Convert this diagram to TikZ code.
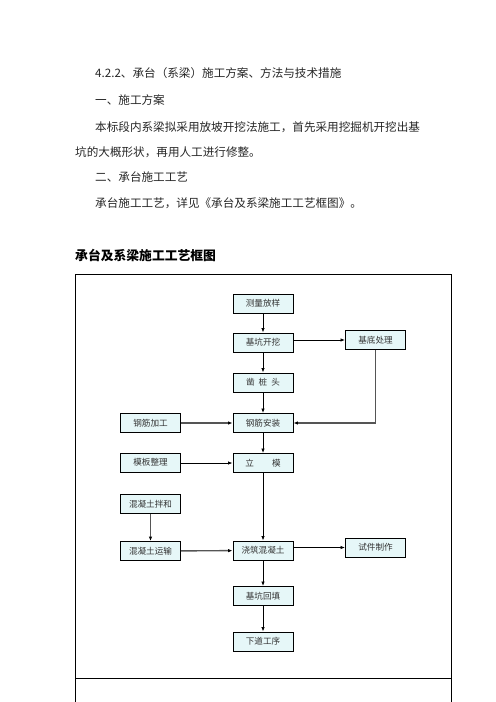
\documentclass[tikz,border=0pt]{standalone}
\usepackage{fontspec}
\usepackage{xcolor}
\usepackage{tikz}
\usetikzlibrary{arrows.meta, positioning}
\newfontfamily\cjk{Noto Sans CJK SC}
\definecolor{boxfill}{RGB}{230,247,248}
\definecolor{linegray}{RGB}{85,85,85}
\tikzstyle{stepbox} = [rectangle, draw=black, fill=boxfill, line width=0.9bp, minimum width=60bp, minimum height=19bp, inner sep=0pt, text=black!80, font=\cjk\fontsize{8.6bp}{10bp}\selectfont]
\tikzstyle{bodytext} = [anchor=west, inner sep=0pt, text=black!85, font=\cjk\fontsize{11.6bp}{14bp}\selectfont]
\tikzstyle{arrow} = [line width=0.8bp, -{Latex[length=4.5bp,width=3.5bp]}]
\tikzstyle{grayarrow} = [line width=1.4bp, draw=linegray, -{Latex[length=4.5bp,width=3.5bp,black]}]

\begin{document}
\begin{tikzpicture}[x=1bp, y=-1bp]
\useasboundingbox (0,0) rectangle (496,702);

\node[bodytext] (heading) at (95,73) {4.2.2、承台（系梁）施工方案、方法与技术措施};
\node[bodytext] (planhead) at (95,100) {一、施工方案};
\node[bodytext] (planline) at (95,127) {本标段内系梁拟采用放坡开挖法施工，首先采用挖掘机开挖出基};
\node[bodytext] (planlinetwo) at (75,152) {坑的大概形状，再用人工进行修整。};
\node[bodytext] (crafthead) at (95,177) {二、承台施工工艺};
\node[bodytext] (craftline) at (95,203) {承台施工工艺，详见《承台及系梁施工工艺框图》。};
\node[
anchor=west,
inner sep=0pt,
font=\cjk\bfseries\fontsize{12.8bp}{15bp}\selectfont
] (charttitle) at (75,255) {承台及系梁施工工艺框图};

\draw[line width=1bp] (75,702) -- (75,274) -- (451,274) -- (451,702);
\draw[line width=1bp] (75,678) -- (451,678);

\node[stepbox] (measure) at (263,303.5) {测量放样};
\node[stepbox] (excavate) at (263,342.5) {基坑开挖};
\node[stepbox] (basetreat) at (375.5,340) {基底处理};
\node[stepbox] (pilehead) at (263,382.5) {凿\hspace{4bp}桩\hspace{4bp}头};
\node[stepbox] (rebarinst) at (263,423) {钢筋安装};
\node[stepbox] (rebarproc) at (150.5,423) {钢筋加工};
\node[stepbox] (formwork) at (150.5,462.5) {模板整理};
\node[stepbox] (erect) at (263,463) {立\hspace{18bp}模};
\node[stepbox] (mixing) at (150.5,504) {混凝土拌和};
\node[stepbox] (transport) at (150.5,551) {混凝土运输};
\node[stepbox] (pour) at (263,550.5) {浇筑混凝土};
\node[stepbox] (specimen) at (375.5,547.5) {试件制作};
\node[stepbox] (backfill) at (263,596) {基坑回填};
\node[stepbox] (nextstep) at (263,641.5) {下道工序};

\draw[arrow] (measure) -- (excavate);
\draw[arrow] (excavate.east |- basetreat.west) -- (basetreat.west);
\draw[arrow] (excavate) -- (pilehead);
\draw[arrow] (pilehead) -- (rebarinst);
\draw[grayarrow] (rebarproc) -- (rebarinst);
\draw[grayarrow] (basetreat.south) |- (rebarinst.east);
\draw[arrow] (rebarinst) -- (erect);
\draw[arrow] (formwork.east |- erect.west) -- (erect.west);
\draw[arrow] (erect) -- (pour);
\draw[grayarrow] (mixing) -- (transport);
\draw[grayarrow] (transport) -- (pour);
\draw[arrow] (pour.east |- specimen.west) -- (specimen.west);
\draw[arrow] (pour) -- (backfill);
\draw[arrow] (backfill) -- (nextstep);
\end{tikzpicture}
\end{document}
